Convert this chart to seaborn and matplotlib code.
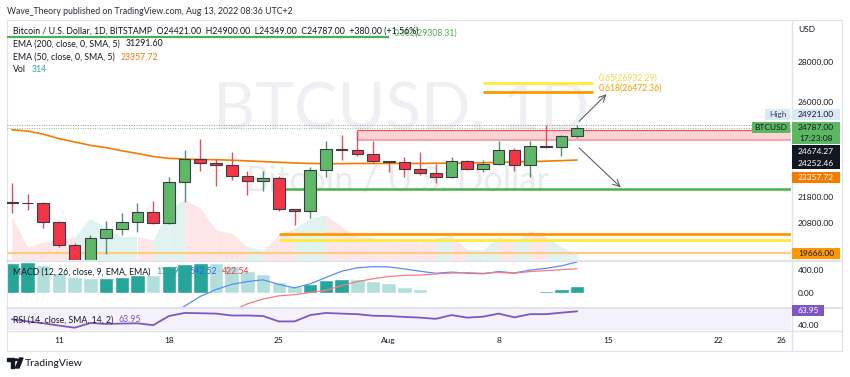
import numpy as np
import matplotlib
matplotlib.use("Agg")
import matplotlib.pyplot as plt
from matplotlib.patches import Rectangle, Polygon, Circle
from matplotlib.lines import Line2D
from matplotlib.ticker import FixedLocator, NullLocator
import seaborn as sns

# BTC/USD daily candles (Bitstamp), 8 Jul .. 13 Aug 2022
opens = [21620, 21590, 21580, 20850, 19960, 19330, 20220, 20580, 20830, 21200,
         20790, 22430, 23390, 23230, 23160, 22690, 22460, 22590, 21320, 21240,
         22950, 23850, 23780, 23640, 23300, 23280, 22980, 22820, 22620, 23310,
         22960, 23170, 23810, 23160, 23950, 23940, 24421]
highs = [22400, 21930, 21600, 20870, 20050, 20330, 20870, 21190, 21560, 21640,
         22650, 23780, 24280, 23400, 23720, 22900, 22880, 22660, 21350, 23070,
         24200, 24450, 24650, 24200, 23310, 23490, 23700, 23180, 23480, 23350,
         23350, 24210, 23900, 24200, 24900, 24450, 24900]
lows = [21180, 21300, 20600, 19880, 19250, 18920, 19630, 20350, 20450, 20770,
        20770, 21620, 22900, 22250, 22520, 21880, 22060, 21260, 20720, 20990,
        22630, 23370, 23520, 23220, 22860, 22620, 22700, 22380, 22590, 22920,
        22860, 23150, 22900, 22650, 23900, 23550, 24349]
closes = [21590, 21580, 20850, 19960, 19330, 20220, 20580, 20830, 21200, 20790,
          22430, 23390, 23230, 23160, 22690, 22460, 22590, 21320, 21240, 22950,
          23850, 23780, 23640, 23300, 23280, 22980, 22820, 22620, 23310, 22960,
          23170, 23810, 23160, 23950, 23940, 24407, 24787]
volume = [2730, 820, 1150, 1260, 1470, 2630, 2000, 1470, 1470, 1260,
          3280, 3780, 3280, 1890, 1700, 840, 630, 1580, 2000, 2650,
          2840, 2100, 1470, 1390, 1150, 1200, 1150, 1390, 1580, 630,
          630, 1470, 1150, 1850, 1470, 840, 314]
ema50 = [24700, 24640, 24500, 24300, 24150, 24000, 23900, 23760, 23640, 23510,
         23430, 23400, 23380, 23370, 23350, 23320, 23290, 23260, 23230, 23210,
         23200, 23200, 23210, 23210, 23210, 23210, 23210, 23220, 23220, 23230,
         23240, 23260, 23270, 23290, 23310, 23330, 23357.72]
macd_line = [-1100, -1000, -950, -950, -980, -900, -830, -750, -650, -600,
             -420, -230, -60, 60, 150, 200, 230, 150, 90, 160,
             270, 380, 440, 460, 455, 420, 380, 345, 365, 345,
             335, 375, 350, 400, 430, 475, 542.52]
signal_line = [-1618, -1534, -1441, -1300, -1255, -1162, -1100, -1032, -972, -910,
               -899, -735, -589, -458, -315, -190, -104, -50, -30, 10,
               47, 129, 200, 248, 288, 308, 313, 333, 348, 355,
               344, 358, 345, 375, 390, 408, 422.54]
macd_hist = [518, 534, 491, 350, 275, 262, 270, 282, 322, 310,
             479, 505, 529, 518, 465, 390, 334, 200, 120, 150,
             223, 251, 240, 212, 167, 112, 67, 12, 17, -10,
             -9, 17, 5, 25, 40, 67, 119.98]
rsi = [49.6, 45.6, 42.2, 38.0, 34.2, 42.7, 41.0, 41.7, 42.2, 38.8,
       55.4, 61.0, 60.5, 59.8, 56.4, 56.4, 55.4, 45.6, 45.6, 57.1,
       61.0, 59.8, 58.8, 55.9, 55.4, 53.7, 52.5, 50.3, 57.1, 52.5,
       54.2, 59.8, 53.0, 58.8, 58.8, 61.5, 63.95]

# day index 0 = 8 Jul
tick_days = [3, 10, 17, 24, 31, 38, 45, 49]
tick_labels = ["11", "18", "25", "Aug", "8", "15", "22", "26"]
price_ticks = [28000, 26000, 21800, 20800]

fib_382, fib_618, fib_65 = 29308.31, 26472.36, 26932.29
zone_low, zone_high = 24252.46, 24674.27
support = 22130
orange_level, yellow_level = 20390, 20150
low_level = 19666.00
session_high = 24921.00

W, H = 850, 377
sns.set_theme(style="white")
plt.rcParams['font.family'] = ['Lato', 'DejaVu Sans']

GREEN, RED = '#5fb868', '#f23645'
GRID = '#e0e3eb'
TXT = '#131722'

fig = plt.figure(figsize=(W / 100, H / 100), dpi=100)
fig.patch.set_facecolor('white')


def box(x0, y0, x1, y1):
    return [x0 / W, 1 - y1 / H, (x1 - x0) / W, (y1 - y0) / H]


def fxy(x, y):
    return x / W, 1 - y / H


ax_p = fig.add_axes(box(7, 20, 791, 260))
ax_v = ax_p.twinx()
ax_m = fig.add_axes(box(7, 261, 791, 307))
ax_r = fig.add_axes(box(7, 308, 791, 330))

ax_p.set_zorder(2)
ax_p.patch.set_visible(False)
ax_v.set_zorder(1)

n = len(closes)
x = np.arange(n)
o, h, l, c = map(np.array, (opens, highs, lows, closes))
up = c >= o
xlim = (-0.31, 49.62)

# watermark
ax_v.text(*fxy(401, 129), "BTCUSD, 1D", transform=fig.transFigure, ha='center',
          va='baseline', fontsize=47, color='#eef0f3', zorder=0)
ax_v.text(*fxy(398, 191), "Bitcoin / U.S. Dollar", transform=fig.transFigure, ha='center',
          va='baseline', fontsize=25, color='#e9ebef', zorder=0)

# volume area
vol_cols = np.where(up, '#e1f3f1', '#fde6e8')
for i in range(1, n):
    ax_v.fill_between(x[i - 1:i + 1], 0, volume[i - 1:i + 1], color=vol_cols[i], lw=0, zorder=1)
ax_v.set_ylim(0, 15120)
ax_v.set_yticks([])

# price panel
ax_p.set_yscale('log')
ax_p.set_ylim(19419, 30251)
ax_p.set_xlim(xlim)

ax_p.axhline(low_level, color='#ffcc80', lw=1.6, zorder=2)
ax_p.hlines([orange_level], 17, xlim[1], color='#ff9800', lw=2, zorder=2)
ax_p.hlines([yellow_level], 17, xlim[1], color='#ffeb3b', lw=2, zorder=2)
ax_p.hlines([support], 17, xlim[1], color='#4caf50', lw=1.8, zorder=2)
ax_p.hlines([fib_382], xlim[0], 24, color='#4caf50', lw=1.6, zorder=2)
ax_p.hlines([fib_65], 30, 37, color='#ffeb3b', lw=2, zorder=2)
ax_p.hlines([fib_618], 30, 37, color='#ff9800', lw=2, zorder=2)
ax_p.fill_between([22, xlim[1]], zone_low, zone_high, color='#fcd3d7', lw=0, zorder=2)
ax_p.hlines([zone_high], 22, xlim[1], color='#f7525f', lw=0.9, zorder=2)
ax_p.hlines([zone_low], 22, xlim[1], color='#f7a3aa', lw=1.4, zorder=2)
ax_p.vlines([22], zone_low, zone_high, color='#f7525f', lw=0.9, zorder=2)
ax_p.axhline(session_high, color='#9598a1', lw=0.7, ls=(0, (1, 1.5)), zorder=2)
ax_p.axhline(closes[-1], color='#81c784', lw=0.7, ls=(0, (1, 1.5)), zorder=2)

sns.lineplot(x=x, y=ema50, ax=ax_p, color='#f57c00', lw=1.2, zorder=3, legend=False)

wick_cols = np.where(up, '#4f8f7c', '#e0505e')
ax_p.vlines(x, l, h, colors=wick_cols, lw=1, zorder=4)
ax_p.bar(x, np.abs(c - o), bottom=np.minimum(o, c), width=0.74,
         color=np.where(up, GREEN, RED), edgecolor='#3a3d45', linewidth=0.8, zorder=5)

# arrows
ax_p.annotate('', xy=(38, fib_618), xytext=(36, 25000),
              arrowprops=dict(arrowstyle='->', color='#5d606b', lw=0.8), zorder=6)
ax_p.annotate('', xy=(38.9, support), xytext=(36, 23970),
              arrowprops=dict(arrowstyle='->', color='#5d606b', lw=0.8), zorder=6)

ax_p.text(37.35, fib_65, "0.65(26932.29)", color='#f5d63d', fontsize=6.2, va='bottom', zorder=7)
ax_p.text(37.35, fib_618, "0.618(26472.36)", color='#ff9800', fontsize=6.2, va='bottom', zorder=7)
ax_p.text(24.3, fib_382, "0.382(29308.31)", color='#4caf50', fontsize=6.2, va='bottom', zorder=7)

ax_p.yaxis.tick_right()
ax_p.yaxis.set_major_locator(FixedLocator(price_ticks))
ax_p.yaxis.set_minor_locator(NullLocator())
ax_p.set_yticklabels([f"{t:.2f}" for t in price_ticks])
ax_p.set_xticks([])
ax_p.set_xlabel('')
ax_p.set_ylabel('')

# MACD panel
hist = np.array(macd_hist)
prev = np.r_[hist[0] - 1, hist[:-1]]
hcols = np.where(hist >= 0, np.where(hist > prev, '#26a69a', '#b2dfdb'), '#ff8a8a')
ax_m.bar(x, hist, width=0.92, color=hcols, zorder=2)
sns.lineplot(x=x, y=macd_line, ax=ax_m, color='#5b8cff', lw=0.9, zorder=3, legend=False)
sns.lineplot(x=x, y=signal_line, ax=ax_m, color='#f77b83', lw=0.9, zorder=3, legend=False)
ax_m.set_ylim(-245, 559)
ax_m.set_xlim(xlim)
ax_m.yaxis.tick_right()
ax_m.set_yticks([400, 0], ["400.00", "0.00"])
ax_m.set_xticks([])
ax_m.set_xlabel('')
ax_m.set_ylabel('')

# RSI panel
ax_r.axhspan(30, 70, color='#f4f1fa', lw=0, zorder=1)
sns.lineplot(x=x, y=rsi, ax=ax_r, color='#7e57c2', lw=1.3, zorder=3, legend=False)
ax_r.set_ylim(30, 70)
ax_r.set_xlim(xlim)
ax_r.yaxis.tick_right()
ax_r.set_yticks([40], ["40.00"])
ax_r.set_xticks(tick_days, tick_labels)
ax_r.set_xlabel('')
ax_r.set_ylabel('')

for ax in (ax_p, ax_v, ax_m, ax_r):
    for s in ax.spines.values():
        s.set_visible(False)
    ax.tick_params(length=0, labelsize=6, colors=TXT, pad=5)
ax_r.tick_params(axis='x', pad=5)

# frame lines
for (x0, y0, x1, y1, lw) in [(7, 20, 842, 20, 0.8), (7, 260.5, 842, 260.5, 1.5),
                             (7, 307.5, 842, 307.5, 1.5), (7, 330.5, 842, 330.5, 1),
                             (7, 350.5, 842, 350.5, 0.8), (791.5, 20, 791.5, 350.5, 1),
                             (842, 20, 842, 350.5, 0.8), (7, 20, 7, 350.5, 0.8)]:
    fig.add_artist(Line2D([x0 / W, x1 / W], [1 - y0 / H, 1 - y1 / H], color=GRID, lw=lw, zorder=1))

# legends
fs = 6.3
fig.text(*fxy(7, 11), "Wave_Theory published on TradingView.com, Aug 13, 2022 08:36 UTC+2",
         fontsize=fs, color='#2a2e39', va='center')


def legend_row(y, label, parts):
    t = fig.text(*fxy(13, y), label, fontsize=fs, color=TXT, va='center', zorder=8)
    for val, col in parts:
        t = ax_p.annotate(val, xy=(1, 0.5), xycoords=t, xytext=(4, 0), textcoords='offset points',
                          fontsize=fs, color=col, va='center', ha='left', zorder=8)


legend_row(31, "Bitcoin / U.S. Dollar, 1D, BITSTAMP  O24421.00  H24900.00  L24349.00  C24787.00  +380.00 (+1.56%)", [])
legend_row(44, "EMA (200, close, 0, SMA, 5)", [("31291.60", TXT)])
legend_row(57, "EMA (50, close, 0, SMA, 5)", [("23357.72", '#f57c00')])
legend_row(69, "Vol", [("314", '#26a69a')])
legend_row(272, "MACD (12, 26, close, 9, EMA, EMA)",
           [("119.98", '#26a69a'), ("542.52", '#2962ff'), ("422.54", '#f23645')])
legend_row(320, "RSI (14, close, SMA, 14, 2)", [("63.95", '#7e57c2')])

fig.text(*fxy(798, 29), "USD", fontsize=6, color=TXT, va='center')


# price-scale tags
def price_px(v):
    return H - ax_p.transData.transform((0, v))[1]


def tag(yc, text, bg, fg, x0=792, x1=840, hh=11):
    fig.add_artist(Rectangle(fxy(x0, yc + hh / 2), (x1 - x0) / W, hh / H,
                             transform=fig.transFigure, facecolor=bg, edgecolor='none', zorder=5))
    fig.text(*fxy((x0 + x1) / 2, yc), text, ha='center', va='center', color=fg,
             fontsize=6, zorder=6)


y_hi = price_px(session_high) - 10
tag(y_hi, "24921.00", '#dbe8f8', TXT)
tag(y_hi, "High", '#dbe8f8', '#434651', x0=765, x1=790)
y_c = price_px(closes[-1])
fig.add_artist(Rectangle(fxy(792, y_c + 16), 48 / W, 22 / H, transform=fig.transFigure,
                         facecolor='#5cb860', edgecolor='none', zorder=5))
fig.text(*fxy(816, y_c), "24787.00", ha='center', va='center', color=TXT, fontsize=6, zorder=6)
fig.text(*fxy(816, y_c + 11), "17:23:08", ha='center', va='center', color=TXT, fontsize=6, zorder=6)
tag(y_c, "BTCUSD", '#5cb860', TXT, x0=752, x1=790)
tag(price_px(zone_high) + 20.7, "24674.27", '#131722', 'white', hh=12.5)
tag(price_px(zone_low) + 23.4, "24252.46", '#131722', 'white', hh=12.5)
tag(price_px(ema50[-1]) + 17, "23357.72", '#f57c00', 'white')
tag(price_px(low_level), "19666.00", '#ff9800', TXT)
tag(310.8, "63.95", '#7e57c2', 'white', x1=824)

# TradingView logo
fig.add_artist(Rectangle(fxy(7, 361), 7 / W, 3 / H, transform=fig.transFigure, color='#131722', zorder=5))
fig.add_artist(Rectangle(fxy(10.5, 368), 3.5 / W, 8 / H, transform=fig.transFigure, color='#131722', zorder=5))
fig.add_artist(Circle(fxy(16.5, 359.7), 1.6 / W, transform=fig.transFigure, color='#131722', zorder=5))
fig.add_artist(Polygon([fxy(15.5, 368), fxy(19, 368), fxy(23, 358), fxy(19.5, 358)],
                       transform=fig.transFigure, color='#131722', zorder=5))
fig.text(*fxy(25, 363.5), "TradingView", fontsize=7.5, color='#131722', va='center')

fig.savefig("out.png", dpi=100, facecolor='white')
